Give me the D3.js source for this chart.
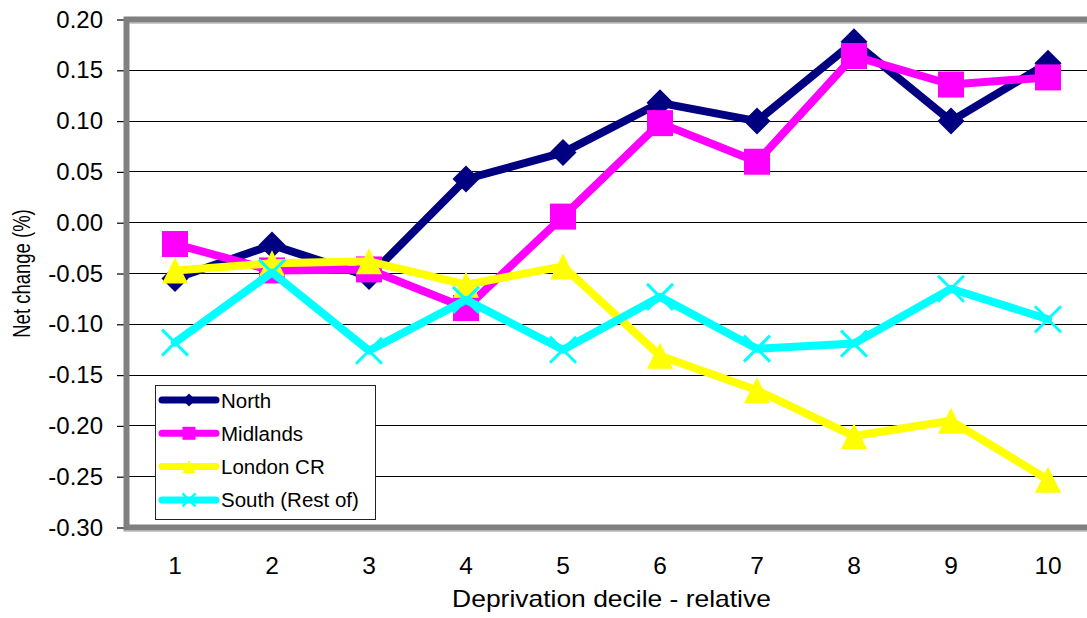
<!DOCTYPE html>
<html>
<head>
<meta charset="utf-8">
<script src="https://cdn.jsdelivr.net/npm/d3@7"></script>
<style>
  html, body { margin: 0; padding: 0; background: #fff; }
  svg { display: block; font-family: "Liberation Sans", Arial, sans-serif; }
</style>
</head>
<body>
<svg id="chart" width="1087" height="618"></svg>
<script>
// Deprivation deciles along the x axis
const categories = ["1", "2", "3", "4", "5", "6", "7", "8", "9", "10"];

// Net change (%) per region and decile
const north    = [-0.055, -0.022, -0.053, 0.043, 0.069, 0.118, 0.100, 0.178, 0.100, 0.157];
const midlands = [-0.021, -0.047, -0.046, -0.084, 0.006, 0.098, 0.060, 0.164, 0.136, 0.143];
const londonCR = [-0.047, -0.040, -0.038, -0.061, -0.043, -0.131, -0.165, -0.210, -0.195, -0.253];
const south    = [-0.118, -0.049, -0.126, -0.076, -0.125, -0.073, -0.124, -0.119, -0.065, -0.095];

const seriesNames = ["North", "Midlands", "London CR", "South (Rest of)"];

// y axis ticks and their labels
const yTicks = [-0.30, -0.25, -0.20, -0.15, -0.10, -0.05, 0.00, 0.05, 0.10, 0.15, 0.20];
const yTickLabels = ["-0.30", "-0.25", "-0.20", "-0.15", "-0.10", "-0.05", "0.00", "0.05", "0.10", "0.15", "0.20"];

const xTitle = "Deprivation decile - relative";
const yTitle = "Net change (%)";

// ---- layout ----
const plot = { left: 126.5, right: 1096.5, top: 19.5, bottom: 527.5 };

const svg = d3.select("#chart");

const x = d3.scaleBand().domain(categories).range([plot.left, plot.right]);
const cx = c => x(c) + x.bandwidth() / 2;
const y = d3.scaleLinear().domain([-0.30, 0.20]).range([plot.bottom, plot.top]);

// marker shapes, centred on the point
const shapes = {
  diamond:  r => `M0,${-r}L${r},0L0,${r}L${-r},0Z`,
  square:   r => `M${-r},${-r}H${r}V${r}H${-r}Z`,
  triangle: r => `M0,${-r}L${r},${r}L${-r},${r}Z`,
  cross:    r => `M${-r},${-r}L${r},${r}M${r},${-r}L${-r},${r}`
};

const series = [
  { name: seriesNames[0], values: north,    color: "#000080", shape: "diamond",  r: 13.5 },
  { name: seriesNames[1], values: midlands, color: "#FF00FF", shape: "square",   r: 13 },
  { name: seriesNames[2], values: londonCR, color: "#FFFF00", shape: "triangle", r: 13 },
  { name: seriesNames[3], values: south,    color: "#00FFFF", shape: "cross",    r: 13 }
];

// ---- gridlines ----
svg.append("g").attr("class", "grid")
  .selectAll("line")
  .data(yTicks.slice(1, -1))
  .join("line")
  .attr("x1", plot.left).attr("x2", plot.right)
  .attr("y1", d => y(d)).attr("y2", d => y(d))
  .attr("stroke", "#000").attr("stroke-width", 1)
  .attr("shape-rendering", "crispEdges");

// ---- y axis ----
const yAxis = d3.axisLeft(y)
  .tickValues(yTicks)
  .tickFormat((d, i) => yTickLabels[i])
  .tickSize(7)
  .tickPadding(14);

const gy = svg.append("g")
  .attr("transform", `translate(${plot.left - 2.5},0)`)
  .call(yAxis);
gy.select(".domain").remove();
gy.selectAll(".tick line").attr("stroke", "#000").attr("stroke-width", 1.2);
gy.selectAll(".tick text")
  .attr("fill", "#000")
  .style("font-size", "24px")
  .style("font-family", "'Liberation Sans', Arial, sans-serif");

// ---- x axis labels ----
const xAxis = d3.axisBottom(x).tickSize(0).tickPadding(0);
const gx = svg.append("g")
  .attr("transform", `translate(0,${plot.bottom})`)
  .call(xAxis);
gx.select(".domain").remove();
gx.selectAll(".tick text")
  .attr("fill", "#000")
  .attr("dy", null)
  .attr("y", 46)
  .style("font-size", "24.5px")
  .style("font-family", "'Liberation Sans', Arial, sans-serif");

// ---- plot frame (grey border with a soft edge) ----
svg.append("line")
  .attr("x1", plot.left + 3).attr("x2", plot.right)
  .attr("y1", plot.top + 3.8).attr("y2", plot.top + 3.8)
  .attr("stroke", "#c8c8c8").attr("stroke-width", 1.5);
svg.append("line")
  .attr("x1", plot.left - 3).attr("x2", plot.right)
  .attr("y1", plot.bottom + 3.8).attr("y2", plot.bottom + 3.8)
  .attr("stroke", "#c8c8c8").attr("stroke-width", 1.5);
svg.append("rect")
  .attr("x", plot.left).attr("y", plot.top)
  .attr("width", plot.right - plot.left)
  .attr("height", plot.bottom - plot.top)
  .attr("fill", "none")
  .attr("stroke", "#808080")
  .attr("stroke-width", 6);

// ---- series ----
const line = d3.line()
  .x((d, i) => cx(categories[i]))
  .y(d => y(d));

series.forEach(s => {
  const g = svg.append("g").attr("class", "series");
  g.append("path")
    .datum(s.values)
    .attr("d", line)
    .attr("fill", "none")
    .attr("stroke", s.color)
    .attr("stroke-width", 8)
    .attr("stroke-linejoin", "round")
    .attr("stroke-linecap", "round");

  g.selectAll("path.marker")
    .data(s.values)
    .join("path")
    .attr("class", "marker")
    .attr("transform", (d, i) => `translate(${cx(categories[i])},${y(d)})`)
    .attr("d", shapes[s.shape](s.r))
    .attr("fill", s.shape === "cross" ? "none" : s.color)
    .attr("stroke", s.shape === "cross" ? s.color : "none")
    .attr("stroke-width", s.shape === "cross" ? 3 : 0);
});

// ---- legend ----
const legend = svg.append("g").attr("class", "legend");
legend.append("rect")
  .attr("x", 155.5).attr("y", 385.5)
  .attr("width", 220).attr("height", 134)
  .attr("fill", "#fff")
  .attr("stroke", "#222").attr("stroke-width", 1);

series.forEach((s, i) => {
  const ly = 400 + i * 33.3;
  const item = legend.append("g");
  item.append("line")
    .attr("x1", 162).attr("x2", 216)
    .attr("y1", ly).attr("y2", ly)
    .attr("stroke", s.color)
    .attr("stroke-width", 7)
    .attr("stroke-linecap", "round");
  item.append("path")
    .attr("transform", `translate(189,${ly})`)
    .attr("d", shapes[s.shape](6.5))
    .attr("fill", s.shape === "cross" ? "none" : s.color)
    .attr("stroke", s.shape === "cross" ? s.color : "none")
    .attr("stroke-width", s.shape === "cross" ? 2.5 : 0);
  item.append("text")
    .attr("x", 221).attr("y", ly + 7.5)
    .attr("fill", "#000")
    .style("font-size", "20.5px")
    .text(s.name);
});

// ---- axis titles ----
svg.append("text")
  .attr("transform", `translate(${(plot.left + plot.right) / 2},607) scale(1.15,1)`)
  .attr("text-anchor", "middle")
  .attr("fill", "#000")
  .style("font-size", "23px")
  .text(xTitle);

svg.append("text")
  .attr("transform", `translate(30,${(plot.top + plot.bottom) / 2}) scale(1.25,1) rotate(-90)`)
  .attr("text-anchor", "middle")
  .attr("fill", "#000")
  .style("font-size", "18.5px")
  .text(yTitle);
</script>
</body>
</html>
